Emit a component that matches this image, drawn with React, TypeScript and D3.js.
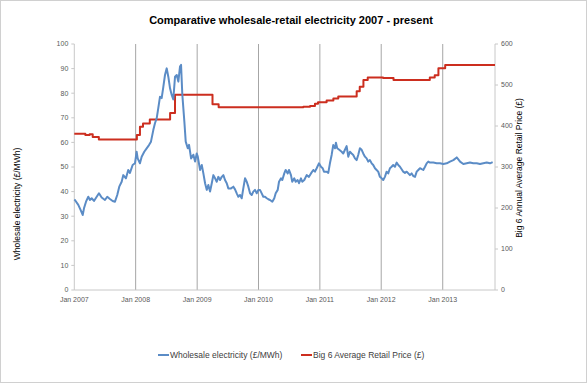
import React from "react";
import * as d3 from "d3";

// Wholesale electricity (£/MWh) — [decimal year, value]
const wholesaleYears = [
  2007.0, 2007.01, 2007.065, 2007.104, 2007.137, 2007.158, 2007.191, 2007.228, 2007.256, 2007.283,
  2007.321, 2007.365, 2007.402, 2007.446, 2007.5, 2007.537, 2007.581, 2007.625, 2007.663, 2007.7,
  2007.733, 2007.772, 2007.798, 2007.842, 2007.879, 2007.907, 2007.951, 2007.989, 2008.016, 2008.033,
  2008.07, 2008.098, 2008.14, 2008.179, 2008.217, 2008.249, 2008.287, 2008.314, 2008.342, 2008.368,
  2008.396, 2008.423, 2008.45, 2008.477, 2008.505, 2008.531, 2008.559, 2008.586, 2008.612, 2008.64,
  2008.668, 2008.694, 2008.721, 2008.738, 2008.759, 2008.792, 2008.814, 2008.847, 2008.868, 2008.901,
  2008.938, 2008.966, 2008.993, 2009.01, 2009.047, 2009.075, 2009.101, 2009.129, 2009.156, 2009.182,
  2009.21, 2009.238, 2009.264, 2009.292, 2009.319, 2009.345, 2009.373, 2009.401, 2009.427, 2009.454,
  2009.482, 2009.508, 2009.552, 2009.59, 2009.617, 2009.645, 2009.671, 2009.699, 2009.726, 2009.752,
  2009.78, 2009.808, 2009.834, 2009.862, 2009.889, 2009.915, 2009.943, 2009.971, 2009.997, 2010.024,
  2010.052, 2010.078, 2010.106, 2010.134, 2010.16, 2010.187, 2010.225, 2010.257, 2010.28, 2010.313,
  2010.334, 2010.367, 2010.388, 2010.42, 2010.443, 2010.476, 2010.497, 2010.529, 2010.55, 2010.583,
  2010.606, 2010.638, 2010.66, 2010.692, 2010.713, 2010.746, 2010.785, 2010.822, 2010.855, 2010.893,
  2010.92, 2010.948, 2010.985, 2011.018, 2011.046, 2011.067, 2011.111, 2011.137, 2011.164, 2011.192,
  2011.218, 2011.246, 2011.262, 2011.283, 2011.316, 2011.355, 2011.381, 2011.409, 2011.436, 2011.463,
  2011.49, 2011.518, 2011.544, 2011.572, 2011.599, 2011.625, 2011.653, 2011.681, 2011.707, 2011.735,
  2011.762, 2011.788, 2011.816, 2011.844, 2011.87, 2011.898, 2011.925, 2011.951, 2011.979, 2012.007,
  2012.033, 2012.06, 2012.088, 2012.114, 2012.142, 2012.169, 2012.195, 2012.223, 2012.251, 2012.277,
  2012.305, 2012.332, 2012.358, 2012.386, 2012.414, 2012.44, 2012.467, 2012.495, 2012.521, 2012.549,
  2012.577, 2012.603, 2012.63, 2012.658, 2012.684, 2012.712, 2012.739, 2012.765, 2012.793, 2012.847,
  2012.902, 2012.956, 2013.01, 2013.065, 2013.118, 2013.173, 2013.228, 2013.254, 2013.282, 2013.336,
  2013.391, 2013.444, 2013.498, 2013.554, 2013.607, 2013.661, 2013.717, 2013.77, 2013.814,
];
const wholesaleValues = [
  36.8, 36.6, 34.6, 32.5, 30.5, 33.2, 35.9, 37.9, 36.6, 37.3,
  36.2, 37.9, 39.3, 37.6, 36.6, 37.9, 37.0, 36.2, 35.9, 38.6,
  42.0, 44.0, 46.7, 45.4, 48.8, 47.6, 50.8, 51.5, 56.2, 53.5,
  51.5, 54.2, 56.2, 57.6, 58.9, 60.3, 65.0, 67.8, 69.8, 73.9,
  78.6, 78.0, 82.6, 87.4, 90.1, 86.7, 82.0, 79.3, 77.5, 86.7,
  87.4, 84.7, 90.8, 91.5, 79.3, 68.4, 60.3, 57.6, 59.0, 53.5,
  55.0, 52.2, 55.5, 54.2, 48.8, 50.8, 47.4, 43.4, 40.7, 42.7,
  40.0, 43.4, 46.7, 45.4, 44.0, 46.0, 44.7, 46.0, 46.7, 44.7,
  43.4, 41.3, 41.3, 42.0, 40.9, 39.3, 37.9, 38.6, 37.3, 41.3,
  45.4, 44.0, 42.0, 39.3, 38.6, 40.0, 40.7, 39.3, 40.7, 40.7,
  39.3, 37.9, 37.9, 37.3, 36.9, 36.6, 35.9, 37.3, 39.3, 40.7,
  44.0, 45.4, 44.7, 47.4, 48.8, 47.4, 48.8, 46.7, 44.0, 45.4,
  44.0, 44.7, 43.4, 45.4, 44.0, 44.7, 46.7, 46.0, 47.4, 48.8,
  48.1, 49.5, 51.5, 50.1, 49.5, 48.1, 48.1, 47.6, 51.5, 54.9,
  58.9, 57.6, 59.9, 57.6, 57.0, 56.2, 55.5, 57.0, 58.5, 54.2,
  56.2, 55.5, 54.9, 53.5, 52.8, 54.9, 57.6, 57.0, 55.5, 54.2,
  53.5, 52.2, 52.8, 51.5, 50.8, 49.5, 48.8, 48.1, 46.0, 45.4,
  44.7, 46.0, 48.1, 47.4, 49.5, 50.1, 50.8, 50.1, 51.8, 50.8,
  50.1, 49.1, 48.1, 47.6, 48.1, 47.4, 46.7, 47.4, 46.3, 46.0,
  48.1, 48.8, 49.5, 49.1, 48.8, 50.1, 51.5, 52.2, 51.8, 51.8,
  51.5, 51.5, 51.2, 51.5, 52.2, 52.8, 53.9, 53.1, 52.2, 51.2,
  51.5, 51.8, 51.5, 51.5, 51.2, 51.5, 51.8, 51.5, 52.0,
];

// Big 6 Average Retail Price (£) — step changes [decimal year, value]
const retailYears = [
  2007.0, 2007.18, 2007.25, 2007.3, 2007.4, 2008.02, 2008.07, 2008.12, 2008.23, 2008.56,
  2008.64, 2009.25, 2009.35, 2010.73, 2010.84, 2010.92, 2010.97, 2011.11, 2011.22, 2011.3,
  2011.6, 2011.65, 2011.71, 2011.78, 2012.03, 2012.2, 2012.79, 2012.87, 2012.93, 2013.04,
  2013.852,
];
const retailValues = [
  381, 378, 380, 373, 367, 378, 398, 406, 416, 432,
  476, 453, 446, 447, 449, 454, 458, 462, 467, 472,
  485, 496, 512, 518, 517, 512, 518, 524, 541, 549,
  549,
];

const leftTicks = [0, 10, 20, 30, 40, 50, 60, 70, 80, 90, 100];
const rightTicks = [0, 100, 200, 300, 400, 500, 600];
const yearTicks = [2007, 2008, 2009, 2010, 2011, 2012, 2013];
const xStart = 2007;
const xEnd = 2013.852;

const title = "Comparative wholesale-retail electricity 2007 - present";
const leftTitle = "Wholesale electricity (£/MWh)";
const rightTitle = "Big 6 Annual Average Retail Price (£)";
const seriesNames = ["Wholesale electricity (£/MWh)", "Big 6 Average Retail Price (£)"];

const BLUE = "#5b8cc6";
const RED = "#cc2e1f";

function toDate(t: number): Date {
  const y = Math.floor(t);
  const s = new Date(y, 0, 1).getTime();
  const e = new Date(y + 1, 0, 1).getTime();
  return new Date(s + (t - y) * (e - s));
}

export default function App() {
  const W = 587, H = 383;
  const L = 74.3, R = 495, T = 44, B = 290;
  const x = d3.scaleTime().domain([toDate(xStart), toDate(xEnd)]).range([L, R]);
  const yL = d3.scaleLinear().domain([0, 100]).range([B, T]);
  const yR = d3.scaleLinear().domain([0, 600]).range([B, T]);

  const wholesale = wholesaleYears.map((t, i) => ({ d: toDate(t), v: wholesaleValues[i] }));
  const retail = retailYears.map((t, i) => ({ d: toDate(t), v: retailValues[i] }));

  const blueLine = d3.line<{ d: Date; v: number }>().x((p) => x(p.d)).y((p) => yL(p.v))(wholesale) || "";
  const redLine = d3
    .line<{ d: Date; v: number }>()
    .x((p) => x(p.d))
    .y((p) => yR(p.v))
    .curve(d3.curveStepAfter)(retail) || "";

  const font = "'Liberation Sans', Arial, sans-serif";
  const tickColor = "#595959";

  return (
    <svg width={W} height={H} style={{ position: "absolute", left: 0, top: 0, background: "#fff" }} fontFamily={font}>
      <rect x={0.5} y={0.5} width={W - 1} height={H - 1} fill="#fff" stroke="#d0d0d0" />
      <text x={291} y={24} textAnchor="middle" fontSize={11} fontWeight="bold" fill="#000">
        {title}
      </text>

      {/* vertical gridlines */}
      {yearTicks.slice(1).map((yr) => (
        <line key={yr} x1={x(toDate(yr))} x2={x(toDate(yr))} y1={T} y2={B} stroke="#a6a6a6" strokeWidth={1} />
      ))}

      {/* axes */}
      <line x1={L} x2={L} y1={T} y2={B} stroke="#c8c8c8" />
      <line x1={R} x2={R} y1={T} y2={B} stroke="#c8c8c8" />
      <line x1={L} x2={R} y1={B} y2={B} stroke="#c8c8c8" />
      {leftTicks.map((v) => (
        <g key={"l" + v}>
          <line x1={L - 3} x2={L} y1={yL(v)} y2={yL(v)} stroke="#c8c8c8" />
          <text x={L - 6} y={yL(v)} dy="0.35em" textAnchor="end" fontSize={7} fill={tickColor}>
            {v}
          </text>
        </g>
      ))}
      {rightTicks.map((v) => (
        <g key={"r" + v}>
          <line x1={R} x2={R + 3} y1={yR(v)} y2={yR(v)} stroke="#c8c8c8" />
          <text x={R + 6} y={yR(v)} dy="0.35em" textAnchor="start" fontSize={7} fill={tickColor}>
            {v}
          </text>
        </g>
      ))}
      {yearTicks.map((yr) => (
        <text key={"x" + yr} x={x(toDate(yr))} y={B + 12} textAnchor="middle" fontSize={7} fill={tickColor}>
          {"Jan " + yr}
        </text>
      ))}

      {/* axis titles */}
      <text
        transform={`translate(20,204) rotate(-90)`}
        textAnchor="middle"
        fontSize={8.5}
        fill="#000"
      >
        {leftTitle}
      </text>
      <text
        transform={`translate(522,168) rotate(-90)`}
        textAnchor="middle"
        fontSize={8.5}
        fill="#000"
      >
        {rightTitle}
      </text>

      {/* series */}
      <path d={redLine} fill="none" stroke={RED} strokeWidth={2} strokeLinejoin="round" />
      <path d={blueLine} fill="none" stroke={BLUE} strokeWidth={2} strokeLinejoin="round" />

      {/* legend */}
      <line x1={158} x2={169} y1={355} y2={355} stroke={BLUE} strokeWidth={2} />
      <text x={170} y={355} dy="0.35em" fontSize={8.5} fill="#404040">
        {seriesNames[0]}
      </text>
      <line x1={301} x2={312} y1={355} y2={355} stroke={RED} strokeWidth={2} />
      <text x={313} y={355} dy="0.35em" fontSize={8.5} fill="#404040">
        {seriesNames[1]}
      </text>
    </svg>
  );
}
